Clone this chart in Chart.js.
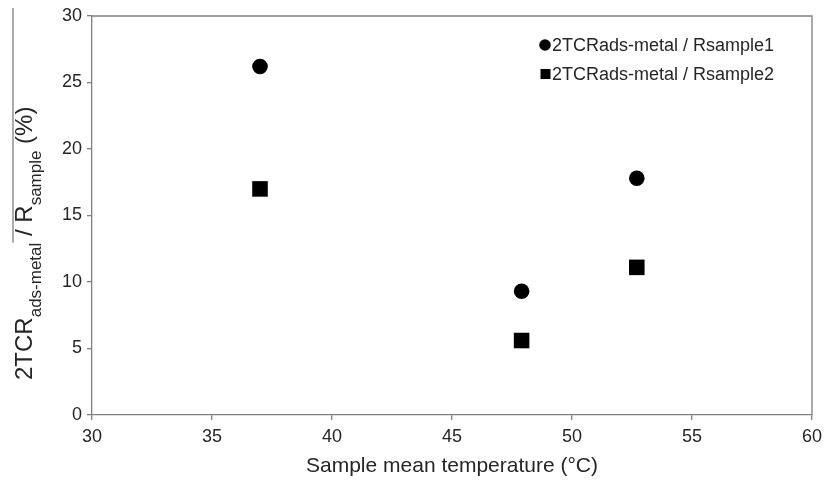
<!DOCTYPE html>
<html><head><meta charset="utf-8">
<script src="https://cdn.jsdelivr.net/npm/chart.js@4.4.0/dist/chart.umd.min.js"></script>
<style>html,body{margin:0;padding:0;background:#fff}#wrap{width:824px;height:483px}</style>
</head><body><div id="wrap"><canvas id="c" width="824" height="483"></canvas></div>
<script>
const temperatures = [37.0, 47.9, 52.7];
const ratio1 = [26.2, 9.3, 17.8];
const ratio2 = [17.0, 5.6, 11.1];
const seriesLabels = ['2TCRads-metal / Rsample1', '2TCRads-metal / Rsample2'];
const xTitle = 'Sample mean temperature (°C)';
const yTitleParts = [['2TCR', 'main'], ['ads-metal', 'sub'], [' / R', 'main'], ['sample', 'sub'], [' (%)', 'main']];

const FONT = '"Liberation Sans", Arial, sans-serif';
const TXT = '#262626';
const AXIS = '#7f7f7f';

const frame = {
  id: 'frame',
  afterDraw(chart) {
    const ctx = chart.ctx, a = chart.chartArea;
    ctx.save();
    ctx.strokeStyle = AXIS; ctx.lineWidth = 1.3;
    ctx.beginPath();
    ctx.moveTo(a.left, a.top); ctx.lineTo(a.right, a.top); ctx.lineTo(a.right, a.bottom);
    ctx.stroke();
    // x title
    ctx.fillStyle = TXT;
    ctx.font = '21px ' + FONT;
    ctx.textAlign = 'center'; ctx.textBaseline = 'middle';
    ctx.fillText(xTitle, (a.left + a.right) / 2, 466);
    // y title (rotated, with subscripts)
    const mainF = '24px ' + FONT, subF = '17px ' + FONT;
    const baseX = 32, startY = 380;
    ctx.translate(baseX, startY);
    ctx.rotate(-Math.PI / 2);
    ctx.textAlign = 'left'; ctx.textBaseline = 'alphabetic';
    let x = 0, lineStart = null;
    yTitleParts.forEach(([t, k], i) => {
      if (i === 2) lineStart = x;
      ctx.font = k === 'main' ? mainF : subF;
      ctx.fillText(t, x, k === 'main' ? 0 : 9);
      x += ctx.measureText(t).width;
    });
    ctx.strokeStyle = AXIS; ctx.lineWidth = 1.3;
    ctx.beginPath();
    ctx.moveTo(lineStart, 13 - baseX); ctx.lineTo(startY - 8, 13 - baseX);
    ctx.stroke();
    ctx.restore();
    // legend
    ctx.save();
    ctx.font = '18px ' + FONT; ctx.fillStyle = TXT;
    ctx.textAlign = 'left'; ctx.textBaseline = 'middle';
    const rows = [45, 74];
    chart.data.datasets.forEach((ds, i) => {
      const y = rows[i];
      ctx.fillStyle = '#000';
      if (ds.pointStyle === 'circle') {
        ctx.beginPath(); ctx.arc(545, y, 5.8, 0, Math.PI * 2); ctx.fill();
      } else {
        ctx.fillRect(540.5, y - 5, 10, 10);
      }
      ctx.fillStyle = TXT;
      ctx.fillText(ds.label, 552, y + 1);
    });
    ctx.restore();
  }
};

new Chart(document.getElementById('c'), {
  type: 'scatter',
  data: {
    datasets: [
      { label: seriesLabels[0], data: temperatures.map((t, i) => ({ x: t, y: ratio1[i] })),
        pointStyle: 'circle', pointRadius: 7.8, pointHoverRadius: 7.8, backgroundColor: '#000', borderWidth: 0 },
      { label: seriesLabels[1], data: temperatures.map((t, i) => ({ x: t, y: ratio2[i] })),
        pointStyle: 'rect', pointRadius: 11, pointHoverRadius: 11, backgroundColor: '#000', borderWidth: 0 }
    ]
  },
  options: {
    responsive: false, animation: false,
    layout: { padding: { top: 16, right: 12, left: 0, bottom: 0 } },
    plugins: { legend: { display: false }, tooltip: { enabled: false } },
    scales: {
      x: {
        type: 'linear', min: 30, max: 60,
        ticks: { stepSize: 5, font: { size: 18, family: FONT }, color: TXT, padding: 6 },
        grid: { drawOnChartArea: false, drawTicks: true, tickLength: 5, color: AXIS, lineWidth: 1.3 },
        border: { color: AXIS, width: 1.3 },
        afterFit(s) { s.height = 68; s.paddingRight = 0; s.paddingLeft = 0; }
      },
      y: {
        min: 0, max: 30,
        ticks: { stepSize: 5, font: { size: 18, family: FONT }, color: TXT, padding: 5 },
        grid: { drawOnChartArea: false, drawTicks: true, tickLength: 5, color: AXIS, lineWidth: 1.3 },
        border: { color: AXIS, width: 1.3 },
        afterFit(s) { s.width = 92; s.paddingTop = 0; s.paddingBottom = 0; }
      }
    }
  },
  plugins: [frame]
});
</script></body></html>
